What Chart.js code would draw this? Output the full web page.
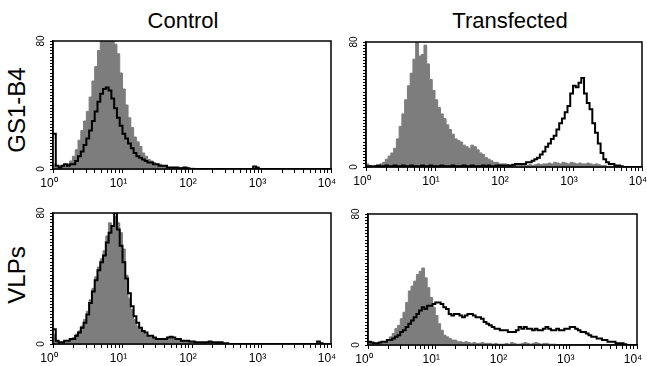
<!DOCTYPE html>
<html>
<head>
<meta charset="utf-8">
<script src="https://cdn.jsdelivr.net/npm/chart.js@4/dist/chart.umd.min.js"></script>
<style>
  body { margin: 0; background: #fff; }
  #wrap { position: relative; width: 647px; height: 366px; overflow: hidden;
          font-family: "Liberation Sans", Arial, sans-serif; color: #000; }
  .title { position: absolute; width: 200px; text-align: center; font-size: 22px; line-height: 22px; }
  .row { position: absolute; width: 120px; height: 26px; line-height: 26px; text-align: center;
         font-size: 24px; transform: rotate(-90deg); }
  canvas { position: absolute; }
</style>
</head>
<body>
<div id="wrap">
  <div class="title" style="left:83px; top:10px;">Control</div>
  <div class="title" style="left:410px; top:10px;">Transfected</div>
  <div class="row" style="left:-43px; top:97px;">GS1-B4</div>
  <div class="row" style="left:-43px; top:262px;">VLPs</div>
</div>
<script>
// histogram counts, 25 channels per decade, channel 0 = 10^0 ... channel 100 = 10^4
// gray = filled histogram, black = outline histogram
let gs1ControlGray = [
  3,1,1,2,2,3,5,8,12,18,
  24,30,36,45,55,64,74,84,86,88,
  85,90,78,72,60,50,40,32,26,20,
  17,14,10,8,6,5,4,3,3,2,
  2,1,1,1,1,1,1,0.5,0.5,0.5,
  0.5,0,0,0,0,0,0,0,0,0,
  0,0,0,0,0,0,0,0,0,0,
  0,0,0,0,0,0,0,0,0,0,
  0,0,0,0,0,0,0,0,0,0,
  0,0,0,0,0,0,0,0,0,0
];
let gs1ControlBlack = [
  22,2,1,2,3,2,3,3,5,8,
  11,15,19,24,30,36,42,47,50,51,
  49,44,38,32,27,22,19,16,13,10,
  8,7,6,5,4,4,3,3,2,2,
  2,1,1,1,1,0.5,0.5,1,0.5,0,
  0,0,0,0,0,0,0,0,0,0,
  0,0,0,0,0,0,0,0,0,0,
  0,0,1.5,1,0,0,0,0,0,0,
  0,0,0,0,0,0,0,0,0,0,
  0,0,0,0,0,0,0,0,0,0
];
let gs1TransGray = [
  2,1,1,1,1,2,3,5,7,9,
  12,18,26,34,43,52,60,69,82,71,
  72,78,66,56,49,43,38,34,31,27,
  24,21,18,17,16,14,13,12,14,13,
  11,9,8,6,5,4,3,3,2,2,
  2,1.5,1,1.5,1,1,1.5,1,1,1.5,
  1,1.5,2,1.5,2,2,2.5,2,3,2.5,
  2,3,2.5,2,3,2.5,2,2.5,2,2,
  2.5,2,1.5,2,1.5,1,1,0.5,0.5,0,
  0,0,0,0,0,0,0,0,0,0
];
let gs1TransBlack = [
  0.5,0.5,0,0.5,1,0.5,0.5,1,0.5,0.5,
  1,0.5,0.5,1,0.5,0.5,1,0.5,0.5,0.5,
  1,0.5,0.5,1,0.5,0.5,0.5,1,0.5,0.5,
  0.5,1,0.5,0.5,0.5,1,0.5,0.5,1,0.5,
  0.5,0.5,1,0.5,1,0.5,0.5,1,1,1,
  1,1,1,1.5,2,2,2,2,3,3,
  4,5,6,8,10,13,15,18,20,24,
  28,31,35,39,47,52,51,54,57,47,
  41,37,28,22,15,9,5,3,2,2,
  1,1,0.5,0,0,0,0,0,0,0
];
let vlpControlGray = [
  6,2,1,1,1,2,3,4,6,8,
  11,15,20,27,34,41,47,52,57,66,
  74,72,78,74,68,58,42,28,21,15,
  11,9,7,6,5,4,4,3,3,2.5,
  3,3.5,4,3,3,2,2,1.5,1.5,1,
  1,1,1,0.5,0.5,0.5,0.5,0.5,0,0,
  0,0,0,0,0,0,0,0,0,0,
  0,0,0,0,0,0,0,0,0,0,
  0,0,0,0,0,0,0,0,0,0,
  0,0,0,0,0,0,0,0,0,0
];
let vlpControlBlack = [
  9,2,1,1,2,2,3,3,5,7,
  10,13,18,25,32,39,45,50,54,62,
  68,72,80,70,60,50,40,31,23,17,
  13,10,8,7,5,5,4,3,3,3,
  3,4,4.5,4,3,3,2,2,2,1.5,
  1.5,1,1,1,1,1,1.5,1,1,1,
  1,0.5,0.5,0,0,0,0,0,0,0,
  0,0,0,0,0,0,0,0,0,0,
  0,0,0,0,0,0,0,0,0,0,
  0,0,0,0,0,1.5,0.5,0,0,0
];
let vlpTransGray = [
  2,1,1,1,1,1,2,3,5,7,
  10,12,16,20,26,33,36,39,43,45,
  47,41,35,29,23,18,13,9,6,5,
  4,3,3,2,2,1.5,2,1.5,1,1.5,
  1,1,1.5,1,1,1,0.5,1,0.5,0.5,
  0.5,1,0.5,1.5,1,0.5,0.5,1,1.5,1,
  0.5,1,1.5,1,0.5,1,1,0.5,0.5,0.5,
  0,0,0,0,0,0,0,0,0,0,
  0,0,0,0,0,0,0,0,0,0,
  0,0,0,0,0,0,0,0,0,0
];
let vlpTransBlack = [
  2,1.5,1,1,1.5,2,2,3,3,4,
  5,6,8,9,11,13,15,17,19,21,
  23,22,24,24,25,26,26,25,23,22,
  19,18,19,19,18,17,18,19,19,18,
  17,17,16,14,13,12,11,10,10,9,
  9,9,8,8,8,9,11,10,11,10,
  10,9,10,9,9,10,11,10,9,9,
  10,9,9,10,10,11,11,10,9,8,
  8,7,6,5,5,4,4,3,3,2,
  2,2,1,1,1,0.5,0,0,0,0
];

let xTickLabels = ['10\u2070', '10\u00b9', '10\u00b2', '10\u00b3', '10\u2074'];
let xMajor = [0, 25, 50, 75, 100];
let yTickLabels = { 0: '0', 80: '80' };

const CH_PER_DECADE = 25;
const FONT = '"Liberation Sans", Arial, sans-serif';
const YW = 18;    // room for y axis
const XH = 24;    // room for x axis
const PADTOP = 6;
const PADRIGHT = 12;

// log minor ticks 2..9 in every decade
let xTicks = [];
for (let d = 0; d < 4; d++) {
  for (let k = 1; k < 10; k++) xTicks.push(CH_PER_DECADE * (d + Math.log10(k)));
}
xTicks.push(100);
let yTicks = [];
for (let v = 0; v <= 80; v += 2) yTicks.push(v);

// plot frames: left, top, width, height
let panels = [
  { left: 53, top: 41, w: 278, h: 128, gray: gs1ControlGray, black: gs1ControlBlack },
  { left: 366, top: 42, w: 276, h: 125, gray: gs1TransGray, black: gs1TransBlack },
  { left: 53, top: 213, w: 278, h: 131, gray: vlpControlGray, black: vlpControlBlack },
  { left: 368, top: 214, w: 269, h: 131, gray: vlpTransGray, black: vlpTransBlack }
];

function toPoints(arr) {
  let pts = arr.map((v, i) => ({ x: i, y: v }));
  pts.push({ x: arr.length, y: arr[arr.length - 1] });
  return pts;
}

// box around the plot area
const frame = {
  id: 'frame',
  afterDraw(chart) {
    let a = chart.chartArea, ctx = chart.ctx;
    ctx.save();
    ctx.strokeStyle = '#000';
    ctx.lineWidth = 1.5;
    ctx.strokeRect(a.left, a.top, a.right - a.left, a.bottom - a.top);
    ctx.restore();
  }
};

let wrap = document.getElementById('wrap');
panels.forEach(p => {
  let c = document.createElement('canvas');
  c.width = YW + p.w + PADRIGHT;
  c.height = PADTOP + p.h + XH;
  c.style.left = (p.left - YW) + 'px';
  c.style.top = (p.top - PADTOP) + 'px';
  wrap.appendChild(c);

  new Chart(c.getContext('2d'), {
    type: 'line',
    data: {
      datasets: [
        { data: toPoints(p.black), stepped: true, borderColor: '#000', borderWidth: 2,
          pointRadius: 0, fill: false },
        { data: toPoints(p.gray), stepped: true, borderColor: '#7d7d7d', borderWidth: 1,
          backgroundColor: '#7d7d7d', pointRadius: 0, fill: 'origin' }
      ]
    },
    options: {
      responsive: false,
      animation: false,
      layout: { padding: { top: PADTOP, right: PADRIGHT, left: 0, bottom: 0 } },
      plugins: { legend: { display: false }, tooltip: { enabled: false } },
      scales: {
        x: {
          type: 'linear', min: 0, max: 100,
          afterBuildTicks: s => { s.ticks = xTicks.map(v => ({ value: v })); },
          afterFit: s => { s.height = XH; s.paddingLeft = 0; s.paddingRight = 0; },
          grid: { drawOnChartArea: false, tickLength: 4, color: '#000', tickWidth: 1 },
          border: { color: '#000', width: 1.5 },
          ticks: {
            autoSkip: false, maxRotation: 0, minRotation: 0, padding: 3, labelOffset: -4,
            color: '#000', font: { size: 12, family: FONT },
            callback: v => { let k = xMajor.indexOf(v); return k >= 0 ? xTickLabels[k] : ''; }
          }
        },
        y: {
          min: 0, max: 80,
          afterBuildTicks: s => { s.ticks = yTicks.map(v => ({ value: v })); },
          afterFit: s => { s.width = YW; s.paddingTop = 0; s.paddingBottom = 0; },
          grid: { drawOnChartArea: false, tickLength: 3, color: '#000', tickWidth: 1 },
          border: { color: '#000', width: 1.5 },
          ticks: {
            autoSkip: false, minRotation: 90, maxRotation: 90, crossAlign: 'center',
            padding: 3, color: '#000', font: { size: 10, family: FONT },
            callback: v => yTickLabels[v] || ''
          }
        }
      }
    },
    plugins: [frame]
  });
});
</script>
</body>
</html>
